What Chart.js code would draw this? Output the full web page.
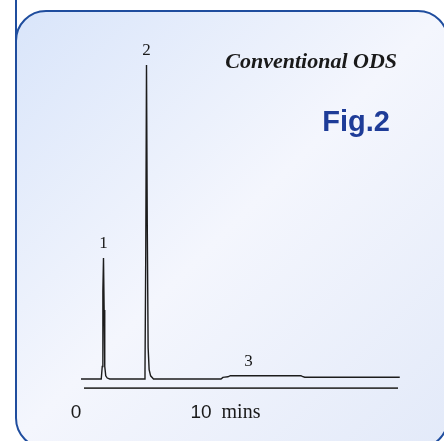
<!DOCTYPE html>
<html>
<head>
<meta charset="utf-8">
<script src="https://cdn.jsdelivr.net/npm/chart.js@4.4.1/dist/chart.umd.min.js"></script>
<style>
  body { margin: 0; background: #fff; }
  canvas { display: block; }
</style>
</head>
<body>
<canvas id="myChartCanvas" width="444" height="441"></canvas>
<script>
// tempo em minutos e sinal do detector
var tempos = [0.4, 2.02, 2.1, 2.15, 2.2, 2.25, 2.3, 2.38, 2.5, 2.7, 5.45, 5.52, 5.58, 5.64, 5.7, 5.77, 5.85, 5.97, 6.2, 11.6, 11.75, 11.9, 12.15, 12.35, 18.0, 18.1, 18.3, 25.9]
var sinal  = [0,   0,    4,   28,   38.5, 22,   4,   1,    0.3, 0,   0,    3,    40,   100,  50,  10,   3,    1,    0,   0,    0.5,   0.6,  0.7,   1.05,  1.05, 0.8,  0.55, 0.55]

// picos numerados
var picoNomes = ['1', '2', '3']
var picoTempo = [2.2, 5.64, 13.8]
var picoSinal = [38.5, 100, 1.05]

// rotulos do eixo de tempo
var eixoTicks = [0, 10]
var eixoTextos = ['0', '10']
var eixoUnidade = 'mins'

// linha do eixo (inicio e fim em minutos)
var eixoTempo = [0.64, 25.76]
var eixoNivel = -2.9

var pontos = []
for (let i = 0; i < tempos.length; i++) {
    pontos.push({ x: tempos[i], y: sinal[i] })
}

var linhaEixo = []
for (let i = 0; i < eixoTempo.length; i++) {
    linhaEixo.push({ x: eixoTempo[i], y: eixoNivel })
}

// fundo com cantos arredondados
function caixa(ctx, x, y, w, h, r) {
    ctx.beginPath()
    ctx.moveTo(x + r, y)
    ctx.lineTo(x + w - r, y)
    ctx.arcTo(x + w, y, x + w, y + r, r)
    ctx.lineTo(x + w, y + h - r)
    ctx.arcTo(x + w, y + h, x + w - r, y + h, r)
    ctx.lineTo(x + r, y + h)
    ctx.arcTo(x, y + h, x, y + h - r, r)
    ctx.lineTo(x, y + r)
    ctx.arcTo(x, y, x + r, y, r)
    ctx.closePath()
}

const fundo = {
    id: 'fundo',
    beforeDraw(chart) {
        const ctx = chart.ctx
        ctx.save()
        ctx.fillStyle = '#ffffff'
        ctx.fillRect(0, 0, chart.width, chart.height)

        let grad = ctx.createLinearGradient(16, 11, 444, 441)
        grad.addColorStop(0, '#d9e5fa')
        grad.addColorStop(0.5, '#f4f6fd')
        grad.addColorStop(1, '#e3eaf9')
        caixa(ctx, 16, 11, 432, 437, 30)
        ctx.fillStyle = grad
        ctx.fill()
        ctx.strokeStyle = '#1f4d9e'
        ctx.lineWidth = 2
        ctx.stroke()

        // linha vertical acima do canto
        ctx.beginPath()
        ctx.moveTo(16, 0)
        ctx.lineTo(16, 41)
        ctx.stroke()
        ctx.restore()
    }
}

const textos = {
    id: 'textos',
    afterDraw(chart) {
        const ctx = chart.ctx
        const x = chart.scales.x
        const y = chart.scales.y
        ctx.save()
        ctx.fillStyle = '#1a1a1a'
        ctx.textAlign = 'center'
        ctx.textBaseline = 'alphabetic'

        // numeros dos picos
        ctx.font = '17px "Liberation Serif", serif'
        for (let i = 0; i < picoNomes.length; i++) {
            ctx.fillText(picoNomes[i], x.getPixelForValue(picoTempo[i]), y.getPixelForValue(picoSinal[i]) - 10)
        }

        // eixo de tempo
        ctx.font = '19px "Liberation Sans", sans-serif'
        let base = 418
        ctx.fillText(eixoTextos[0], x.getPixelForValue(eixoTicks[0]), base)
        ctx.fillText(eixoTextos[1], x.getPixelForValue(eixoTicks[1]), base)
        let w10 = ctx.measureText(eixoTextos[1]).width
        ctx.textAlign = 'left'
        ctx.font = '20px "Liberation Serif", serif'
        ctx.fillText(eixoUnidade, x.getPixelForValue(eixoTicks[1]) + w10 / 2 + 10, base)

        // titulo
        ctx.textAlign = 'right'
        ctx.font = 'italic bold 22px "Liberation Serif", serif'
        ctx.fillText('Conventional ODS', 397, 68)

        ctx.fillStyle = '#1e3c98'
        ctx.font = 'bold 29px "Liberation Sans", sans-serif'
        ctx.fillText('Fig.2', 390, 131)
        ctx.restore()
    }
}

const config = {
    type: 'scatter',
    data: {
        datasets: [
            {
                label: 'Sinal',
                data: pontos,
                showLine: true,
                borderColor: '#1c1c1c',
                borderWidth: 1.4,
                pointRadius: 0,
                tension: 0
            },
            {
                label: 'Eixo',
                data: linhaEixo,
                showLine: true,
                borderColor: '#3a3a3a',
                borderWidth: 1.6,
                pointRadius: 0
            }
        ]
    },
    options: {
        responsive: false,
        animation: false,
        layout: { padding: 0 },
        plugins: { legend: { display: false }, tooltip: { enabled: false } },
        scales: {
            x: { type: 'linear', min: -6.08, max: 29.44, display: false },
            y: { type: 'linear', min: -19.75, max: 120.7, display: false }
        }
    },
    plugins: [fundo, textos]
}

let myChart = new Chart(document.getElementById('myChartCanvas'), config)
</script>
</body>
</html>
